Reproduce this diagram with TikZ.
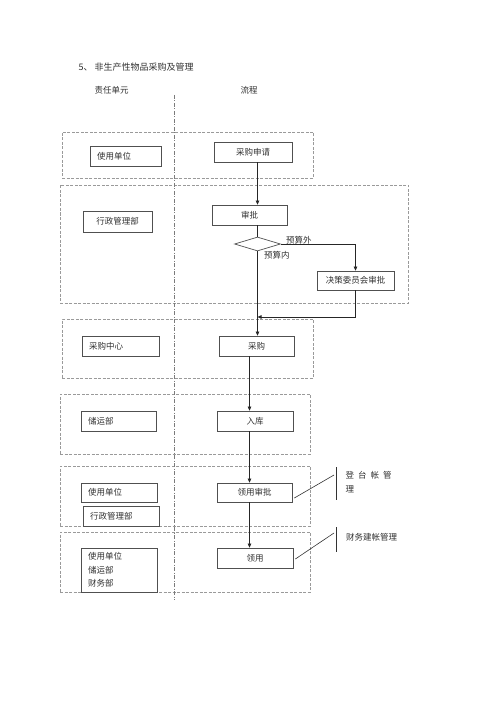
\documentclass[tikz,border=0pt]{standalone}
\usepackage{fontspec}
\newfontfamily\cjk{Noto Sans CJK SC}
\usetikzlibrary{arrows.meta,shapes.geometric,calc}
\definecolor{boxgray}{HTML}{505050}
\definecolor{lanegray}{HTML}{9A9A9A}
\definecolor{txt}{HTML}{303030}
\begin{document}
\begin{tikzpicture}[x=1pt,y=-1pt,
  every node/.style={font=\cjk\fontsize{8.5}{10}\selectfont, text=txt},
  lane/.style={draw=lanegray, line width=0.6pt, dash pattern=on 3pt off 1.5pt, inner sep=0pt},
  cbox/.style={draw=boxgray, line width=0.7pt, inner sep=0pt, minimum height=20pt},
  lbox/.style={draw=boxgray, line width=0.7pt, inner ysep=0pt, inner xsep=7pt, minimum height=20pt, align=left},
  dia/.style={draw=boxgray, line width=0.7pt, diamond, aspect=3.3, inner sep=0pt, minimum width=46pt, minimum height=14pt},
  conn/.style={draw=black!85, line width=0.6pt},
  arr/.style={conn, -{Triangle[length=4pt,width=3.5pt]}},
  note/.style={draw=black!80, line width=0.6pt}
]
\useasboundingbox (0,0) rectangle (500,708);

% headings
\node[anchor=west, font=\cjk\fontsize{9}{11}\selectfont] (title) at (75,67) {5、\hspace{2pt}非生产性物品采购及管理};
\node[anchor=west] (hdl) at (91,90) {责任单元};
\node[anchor=west] (hdr) at (237,90) {流程};

% lanes
\node[lane, minimum width=251pt, minimum height=46pt] (L1) at (187.5,155) {};
\node[lane, minimum width=348pt, minimum height=118pt] (L2) at (234,244) {};
\node[lane, minimum width=251pt, minimum height=59pt] (L3) at (187.5,348.5) {};
\node[lane, minimum width=250pt, minimum height=60pt] (L4) at (185,424) {};
\node[lane, minimum width=250pt, minimum height=60pt] (L5) at (185,496) {};
\node[lane, minimum width=250pt, minimum height=60pt] (L6) at (185,562) {};

% divider
\coordinate (vtop) at (174,95);
\coordinate (vbot) at (174,600);
\draw[lanegray!80!black, line width=0.6pt, dash pattern=on 4pt off 1.5pt on 1pt off 1.5pt] (vtop) -- (vbot);

% left column boxes
\node[lbox, text width=57pt] (u1) at (125.5,156) {使用单位};
\node[cbox, minimum width=69pt, minimum height=21pt] (a1) at (117.5,221.5) {行政管理部};
\node[lbox, text width=63pt] (c1) at (120.5,346) {采购中心};
\node[lbox, text width=61pt] (cy) at (118.5,421) {储运部};
\node[lbox, text width=62pt, minimum height=19pt] (u2) at (119,492.5) {使用单位};
\node[lbox, text width=62pt] (a2) at (121,516) {行政管理部};
\node[lbox, text width=62pt, minimum height=44pt, font=\cjk\fontsize{8.5}{13.5}\selectfont] (m3) at (119,570) {使用单位\\储运部\\财务部};

% flow boxes
\node[cbox, minimum width=78pt] (p1) at (253,152) {采购申请};
\node[cbox, minimum width=75pt] (s1) at (249.5,215) {审批};
\node[dia] (d) at (257.5,244) {};
\node[cbox, minimum width=77pt, minimum height=19pt] (jc) at (355.5,280.5) {决策委员会审批};
\node[cbox, minimum width=75pt] (cg) at (256.5,346) {采购};
\node[cbox, minimum width=76pt] (rk) at (255,421) {入库};
\node[cbox, minimum width=75pt, minimum height=19pt] (ly) at (254.5,492.5) {领用审批};
\node[cbox, minimum width=76pt] (lyy) at (255,558) {领用};

% labels
\node[anchor=west, inner sep=0pt] (lw) at (286,240) {预算外};
\node[anchor=west, inner sep=0pt] (ln) at (264,255) {预算内};

% connectors
\coordinate (colB) at (249.5,0);
\coordinate (mrg) at (257.5,317);
\draw[arr] (p1.south -| d.north) -- (s1.north -| d.north);
\draw[conn] (s1.south -| d.north) -- (d.north);
\draw[arr] (d.east) -| (jc.north);
\draw[arr] (d.south) -- (cg.north -| d.south);
\draw[arr] (jc.south) |- (mrg);
\draw[arr] (cg.south -| colB) -- (rk.north -| colB);
\draw[arr] (rk.south -| colB) -- (ly.north -| colB);
\draw[arr] (ly.south -| colB) -- (lyy.north -| colB);

% annotations
\coordinate (b1t) at (336,467);
\coordinate (b1b) at (336,500);
\coordinate (b1m) at (334,475);
\draw[note] (b1t) -- (b1b);
\draw[note] ([xshift=2pt,yshift=-5.5pt]ly.east) -- (b1m);
\node[anchor=north west, inner sep=0pt, align=left, font=\cjk\fontsize{8.5}{14}\selectfont] (n1) at (345.5,471.5) {登\hspace{4pt}台\hspace{4pt}帐\hspace{4pt}管\\理};

\coordinate (b2t) at (336,527);
\coordinate (b2b) at (336,552);
\coordinate (b2m) at (334,533);
\draw[note] (b2t) -- (b2b);
\draw[note] ([xshift=2pt,yshift=-1pt]lyy.east) -- (b2m);
\node[anchor=west, inner sep=0pt] (n2) at (346,537) {财务建帐管理};
\end{tikzpicture}
\end{document}
